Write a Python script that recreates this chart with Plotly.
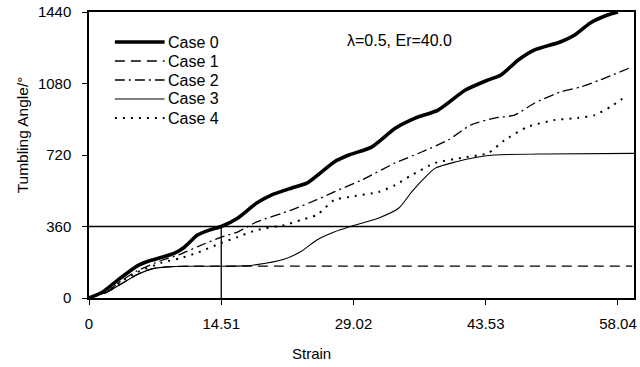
import plotly.graph_objects as go

# ---- data ----
case0_strain = [0, 1.5, 3.3, 5.3, 6.5, 8.0, 9.4, 10.5, 11.9, 13.2, 14.51, 16.3, 18.4, 20.0, 22.2, 23.9,
                25.8, 26.9, 28.5, 31.0, 33.6, 35.8, 38.3, 41.3, 43.8, 45.2, 47.1, 48.9, 51.7, 53.3,
                55.0, 56.9, 58.04]
case0_angle = [0, 30, 95, 162, 185, 205, 226, 257, 317, 342, 360, 402, 478, 518, 553, 578,
               645, 685, 720, 760, 855, 906, 946, 1047, 1098, 1123, 1198, 1249, 1289, 1324,
               1385, 1425, 1440]

case1_strain = [0, 2, 3.5, 5.2, 7, 9, 11, 14, 59.6]
case1_angle = [0, 30, 70, 116, 148, 158, 160, 160, 160]

case2_strain = [0, 2, 3.5, 5.2, 8.0, 10, 12, 14.51, 16.3, 18.4, 22.2, 25, 26.9, 29.9, 33.6, 36.5,
                39.4, 41.9, 44.5, 46.7, 48.9, 51.7, 53.9, 56.1, 59.3]
case2_angle = [0, 32, 85, 135, 190, 220, 260, 307, 332, 383, 443, 495, 534, 594, 680, 735,
               795, 871, 906, 921, 982, 1037, 1062, 1098, 1158]

case3_strain = [0, 2, 3.5, 5.2, 7, 9, 11, 14.51, 17, 18.4, 21.4, 23.3, 25, 26.9, 28.5, 31.8, 34.0,
                35.4, 36.9, 38, 40.2, 42.7, 44.5, 50, 59.8]
case3_angle = [0, 30, 70, 116, 148, 158, 160, 160, 162, 168, 195, 235, 292, 332, 357, 403, 453,
               534, 609, 654, 685, 710, 720, 725, 728]

case4_strain = [0, 2, 3.5, 5.2, 8, 10, 12, 14.51, 16.3, 18.4, 21.4, 23.3, 25, 26.9, 28.5, 31.8,
                33.6, 35.4, 38, 40.8, 43.8, 45.6, 48.1, 51.1, 53.6, 55.5, 57.2, 58.8]
case4_angle = [0, 33, 82, 128, 178, 200, 230, 277, 307, 342, 367, 393, 418, 493, 509, 534,
               569, 619, 680, 705, 730, 795, 861, 896, 906, 921, 962, 1012]

case_names = ["Case 0", "Case 1", "Case 2", "Case 3", "Case 4"]
x_ticks = [0, 14.51, 29.02, 43.53, 58.04]
y_ticks = [0, 360, 720, 1080, 1440]
ref_strain = 14.51
ref_angle = 360

FONT = "Liberation Sans, Arial, sans-serif"

# plot-area geometry (pixels) used to place the hand-built legend
L, R, T, B, W, H = 89, 3, 12, 69, 640, 367
PW, PH = W - L - R, H - T - B


def px_x(px):
    return (px - L) / PW


def px_y(py):
    return (H - B - py) / PH


styles = [
    dict(dash="solid", width=3.6),
    dict(dash="10px,6px", width=1.3),
    dict(dash="10px,4px,2px,4px", width=1.3),
    dict(dash="solid", width=1.1),
    dict(dash="2px,6px", width=2.0),
]
data = [
    (case0_strain, case0_angle),
    (case1_strain, case1_angle),
    (case2_strain, case2_angle),
    (case3_strain, case3_angle),
    (case4_strain, case4_angle),
]

fig = go.Figure()
for name, (xs, ys), st in zip(case_names, data, styles):
    fig.add_trace(go.Scatter(x=xs, y=ys, name=name, mode="lines", showlegend=False,
                             line=dict(color="black", width=st["width"], dash=st["dash"],
                                       shape="spline", smoothing=0.6)))

# reference lines
fig.add_shape(type="line", xref="paper", yref="y", x0=0, x1=1, y0=ref_angle, y1=ref_angle,
              line=dict(color="black", width=1.3))
fig.add_shape(type="line", xref="x", yref="y", x0=ref_strain, x1=ref_strain, y0=0, y1=ref_angle,
              line=dict(color="black", width=1.3))

# legend (hand-built so sample length and row spacing match)
for i, (name, st) in enumerate(zip(case_names, styles)):
    yy = px_y(42 + 19 * i)
    fig.add_shape(type="line", xref="paper", yref="paper", x0=px_x(115), x1=px_x(165), y0=yy, y1=yy,
                  line=dict(color="black", width=st["width"], dash=st["dash"]))
    fig.add_annotation(text=name, xref="paper", yref="paper", x=px_x(166), y=yy,
                       xanchor="left", yanchor="middle", showarrow=False,
                       font=dict(family=FONT, size=16, color="black"))

fig.add_annotation(text="λ=0.5, Er=40.0", xref="paper", yref="paper", x=px_x(346), y=px_y(41),
                   xanchor="left", yanchor="middle", showarrow=False,
                   font=dict(family=FONT, size=16, color="black"))
fig.add_annotation(text="Tumbling Angle/°", xref="paper", yref="paper", x=px_x(22), y=px_y(135),
                   xanchor="center", yanchor="middle", textangle=-90, showarrow=False,
                   font=dict(family=FONT, size=15.5, color="black"))
fig.add_annotation(text="Strain", xref="paper", yref="paper", x=px_x(313), y=px_y(353),
                   xanchor="center", yanchor="middle", showarrow=False,
                   font=dict(family=FONT, size=15, color="black"))

fig.update_layout(
    width=W, height=H,
    margin=dict(l=L, r=R, t=T, b=B),
    paper_bgcolor="white", plot_bgcolor="white",
    font=dict(family=FONT, size=15, color="black"),
    showlegend=False,
    xaxis=dict(range=[0, 59.8], tickmode="array", tickvals=x_ticks,
               ticktext=[f"{v:g}" if v == 0 else f"{v:.2f}" for v in x_ticks],
               showgrid=False, zeroline=False, showline=True, linecolor="black", linewidth=1.5,
               mirror=True, ticks="outside", ticklen=5, tickcolor="black", ticklabelstandoff=6),
    yaxis=dict(range=[0, 1440], tickmode="array", tickvals=y_ticks,
               showgrid=False, zeroline=False, showline=True, linecolor="black", linewidth=1.5,
               mirror=True, ticks="outside", ticklen=5, tickcolor="black", ticklabelstandoff=8),
)

fig.write_html("out.html")
